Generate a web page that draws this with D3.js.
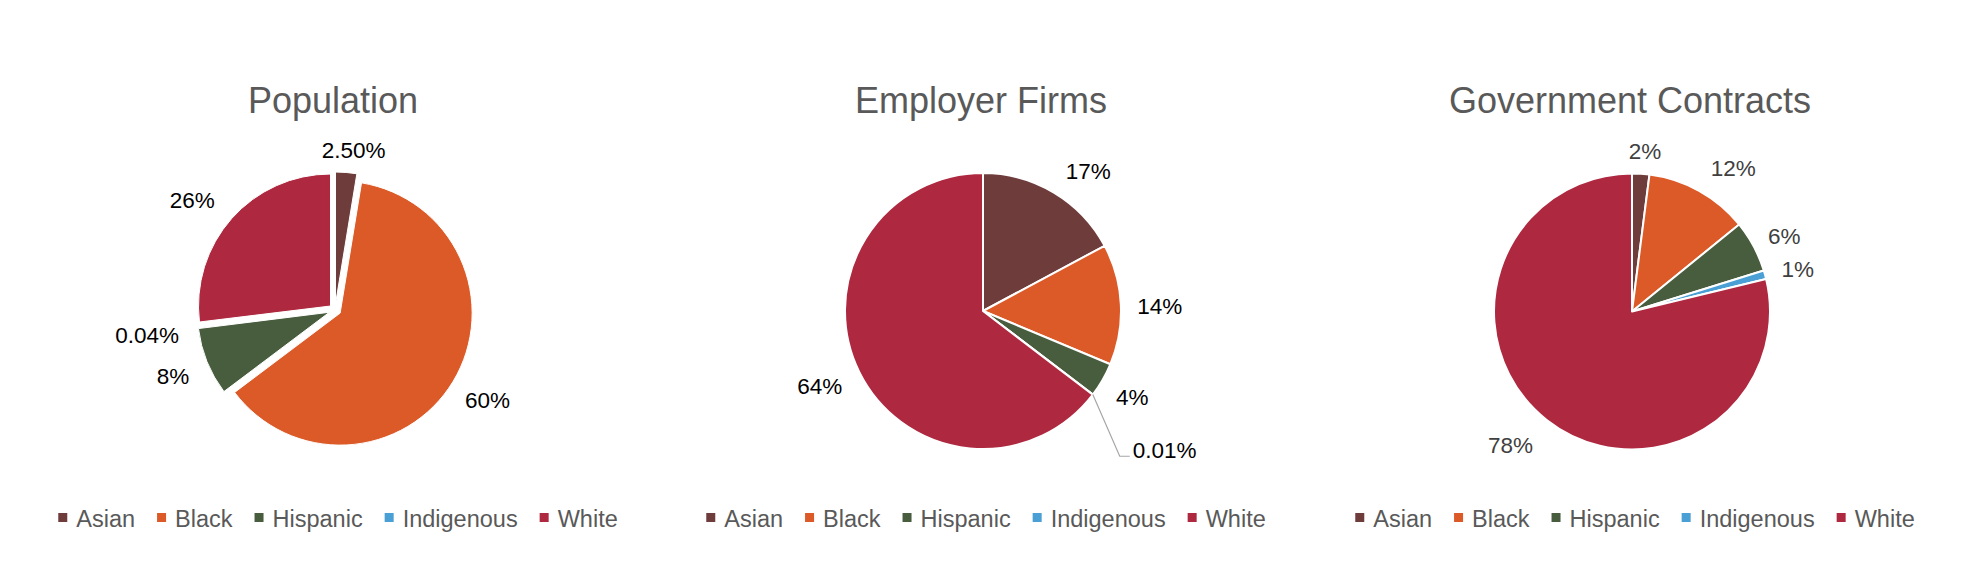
<!DOCTYPE html>
<html><head><meta charset="utf-8">
<script src="https://cdn.jsdelivr.net/npm/d3@7"></script>
<style>body{margin:0;background:#fff} svg{display:block;font-family:"Liberation Sans",Arial,sans-serif}</style>
</head><body>
<svg id="c" width="1968" height="572"></svg>
<script>
// ---- data ----
const categories = ["Asian", "Black", "Hispanic", "Indigenous", "White"];
const populationValues = [2.5, 60, 8, 0.04, 26];
const populationLabels = ["2.50%", "60%", "8%", "0.04%", "26%"];
const firmValues = [17, 14, 4, 0.01, 64];
const firmLabels = ["17%", "14%", "4%", "0.01%", "64%"];
const contractValues = [2, 12, 6, 1, 78];
const contractLabels = ["2%", "12%", "6%", "1%", "78%"];
const titles = ["Population", "Employer Firms", "Government Contracts"];
const colors = ["#6F3C3C", "#DC5A28", "#485C3E", "#4A9FD5", "#AE283F"];

// ---- layout (not data) ----
const layout = [
  {values: populationValues, labels: populationLabels, cx: 335, cy: 310, r: 132, explode: 6, stroke: 1,
   labelColor: "#000", nudge: [2, -0.6, -0.2, -0.6, -4], gap: [12, 16, 19, 19, 19.5], leader: [false,false,false,false,false]},
  {values: firmValues, labels: firmLabels, cx: 983, cy: 311, r: 138, explode: 0, stroke: 2,
   labelColor: "#000", nudge: [6, 1.1, 0, 0.2, 1.7], gap: [17.8, 16, 16.4, 61, 18], leader: [false,false,false,true,false]},
  {values: contractValues, labels: contractLabels, cx: 1632, cy: 311.5, r: 138, explode: 0, stroke: 2,
   labelColor: "#404040", nudge: [1, 6.2, 1.8, 1, 4.1], gap: [14, 18, 14, 15.6, 21.7], leader: [false,false,false,false,false]}
];

const svg = d3.select("#c");
const color = d3.scaleOrdinal().domain(categories).range(colors);
const rad = Math.PI / 180;
const LABEL_SIZE = 22.5, TITLE_SIZE = 36, LEGEND_SIZE = 23.5;
const textH = 15;

layout.forEach((L, ci) => {
  const g = svg.append("g");
  const rows = categories.map((c, i) => ({cat: c, value: L.values[i], label: L.labels[i], i}));
  const pie = d3.pie().sort(null).value(d => d.value).startAngle(0).endAngle(2 * Math.PI);
  const arcs = pie(rows);
  const arc = d3.arc().innerRadius(0).outerRadius(L.r);

  // title
  g.append("text").attr("x", L.cx - 2).attr("y", 113).attr("text-anchor", "middle")
    .attr("font-size", TITLE_SIZE).attr("fill", "#595959").text(titles[ci]);

  // slices
  g.selectAll("path.slice").data(arcs).join("path")
    .attr("class", "slice")
    .attr("d", arc)
    .attr("fill", d => color(d.data.cat))
    .attr("stroke", "#fff").attr("stroke-width", L.stroke).attr("stroke-linejoin", "round")
    .attr("transform", d => {
      const m = (d.startAngle + d.endAngle) / 2;
      return `translate(${L.cx + L.explode * Math.sin(m)},${L.cy - L.explode * Math.cos(m)})`;
    });

  // labels
  arcs.forEach(d => {
    const i = d.data.i;
    const mid = (d.startAngle + d.endAngle) / 2;
    const a = mid + L.nudge[i] * rad;
    const t = g.append("text").attr("font-size", LABEL_SIZE).attr("fill", L.labelColor)
      .attr("text-anchor", "middle").attr("dy", "0.35em").text(d.data.label);
    const w = t.node().getComputedTextLength();
    const sx = Math.sin(a), sy = -Math.cos(a);
    const ext = Math.abs(sx) * w / 2 + Math.abs(sy) * textH / 2;
    const dist = L.r + L.explode + L.gap[i] + ext;
    const lx = L.cx + dist * sx, ly = L.cy + dist * sy;
    t.attr("x", lx).attr("y", ly);
    if (L.leader[i]) {
      const ex = L.cx + L.r * Math.sin(mid), ey = L.cy - L.r * Math.cos(mid);
      const left = lx - w / 2;
      g.append("polyline")
        .attr("points", `${ex},${ey} ${left - 13},${ly + 6} ${left - 3},${ly + 6}`)
        .attr("fill", "none").attr("stroke", "#A6A6A6").attr("stroke-width", 1.2);
    }
  });

  // legend
  const lg = g.append("g");
  const items = categories.map((c, i) => {
    const it = lg.append("g");
    it.append("rect").attr("width", 9).attr("height", 9).attr("y", 513).attr("fill", color(c));
    const tx = it.append("text").attr("x", 18).attr("y", 527).attr("font-size", LEGEND_SIZE)
      .attr("fill", "#595959").text(c);
    return {it, w: 18 + tx.node().getComputedTextLength()};
  });
  const spacing = 22;
  const total = d3.sum(items, d => d.w) + spacing * (items.length - 1);
  let x = L.cx + 3 - total / 2;
  items.forEach(d => { d.it.attr("transform", `translate(${x},0)`); x += d.w + spacing; });
});
</script>
</body></html>
